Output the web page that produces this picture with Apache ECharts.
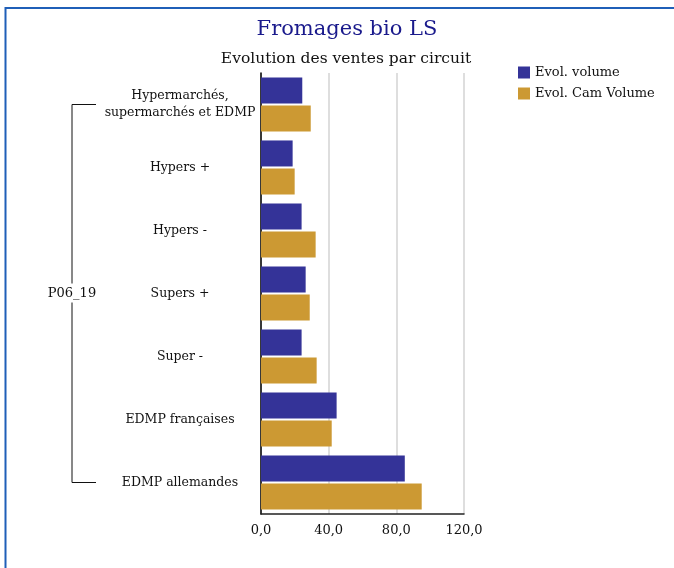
<!DOCTYPE html>
<html>
<head>
<meta charset="utf-8">
<script src="https://cdn.jsdelivr.net/npm/echarts@6/dist/echarts.min.js"></script>
<style>
html,body{margin:0;padding:0;background:#fff;}
#chart{width:674px;height:568px;}
</style>
</head>
<body>
<div id="chart"></div>
<script>
const categories = [
  "Hypermarchés,\nsupermarchés et EDMP",
  "Hypers +",
  "Hypers -",
  "Supers +",
  "Super -",
  "EDMP françaises",
  "EDMP allemandes"
];
const groupLabel = "P06_19";
const seriesNames = ["Evol. volume", "Evol. Cam Volume"];
const evolVolume = [24.4, 18.7, 24.0, 26.4, 24.0, 44.7, 85.0];
const evolCamVolume = [29.4, 19.9, 32.3, 28.8, 32.9, 41.8, 95.0];
const xTicks = [0, 40, 80, 120];

const FONT = "DejaVu Serif";
const chart = echarts.init(document.getElementById('chart'));
const option = {
  backgroundColor: '#fff',
  animation: false,
  textStyle: { fontFamily: FONT },
  title: [
    { text: "Fromages bio LS", left: 342, top: 14, textAlign: 'center',
      textStyle: { fontFamily: FONT, fontSize: 21, fontWeight: 'normal', color: '#1a1a8c' } },
    { text: "Evolution des ventes par circuit", left: 341, top: 46, textAlign: 'center',
      textStyle: { fontFamily: FONT, fontSize: 15.5, fontWeight: 'normal', color: '#111' } }
  ],
  legend: {
    orient: 'vertical', left: 518, top: 65, padding: 0, itemWidth: 12, itemHeight: 12, itemGap: 6,
    icon: 'rect', data: seriesNames,
    textStyle: { fontFamily: FONT, fontSize: 13, color: '#111', lineHeight: 15 }
  },
  grid: { left: 261, right: 210, top: 73, bottom: 54, containLabel: false },
  xAxis: {
    type: 'value', min: xTicks[0], max: xTicks[xTicks.length - 1], interval: 40,
    axisLine: { show: true, lineStyle: { color: '#222', width: 1.5 } },
    axisTick: { show: false },
    splitLine: { show: true, lineStyle: { color: '#d3d3d3', width: 1.5 } },
    axisLabel: { margin: 10, fontFamily: FONT, fontSize: 13, color: '#111',
      formatter: v => v.toFixed(1).replace('.', ',') }
  },
  yAxis: {
    type: 'category', data: categories, inverse: true,
    axisLine: { show: true, lineStyle: { color: '#000', width: 1.5 } },
    axisTick: { show: false },
    axisLabel: { margin: 81, align: 'center', fontFamily: FONT, fontSize: 12.5, color: '#111', lineHeight: 17 }
  },
  series: [
    { name: seriesNames[0], type: 'bar', data: evolVolume, barWidth: 26, barGap: '8%',
      itemStyle: { color: '#343398' } },
    { name: seriesNames[1], type: 'bar', data: evolCamVolume, barWidth: 26, barGap: '8%',
      itemStyle: { color: '#cc9933' } }
  ]
};
chart.setOption(option);

// bracket grouping all categories
const yTop = chart.convertToPixel({ yAxisIndex: 0 }, categories[0]);
const yBot = chart.convertToPixel({ yAxisIndex: 0 }, categories[categories.length - 1]);
const yMid = (yTop + yBot) / 2;
const bx = 72, bx2 = 96;
chart.setOption({
  graphic: [
    { type: 'rect', shape: { x: 5.5, y: 8, width: 800, height: 800 },
      style: { fill: 'none', stroke: '#1f5fb8', lineWidth: 2 }, silent: true },
    { type: 'polyline', shape: { points: [[bx2, yTop], [bx, yTop], [bx, yMid - 10]] },
      style: { stroke: '#111', lineWidth: 1, fill: 'none' } },
    { type: 'polyline', shape: { points: [[bx, yMid + 9], [bx, yBot], [bx2, yBot]] },
      style: { stroke: '#111', lineWidth: 1, fill: 'none' } },
    { type: 'text', x: bx, y: yMid, style: { text: groupLabel, fontFamily: FONT, fontSize: 13,
      fill: '#111', textAlign: 'center', textVerticalAlign: 'middle' } }
  ]
});
</script>
</body>
</html>
